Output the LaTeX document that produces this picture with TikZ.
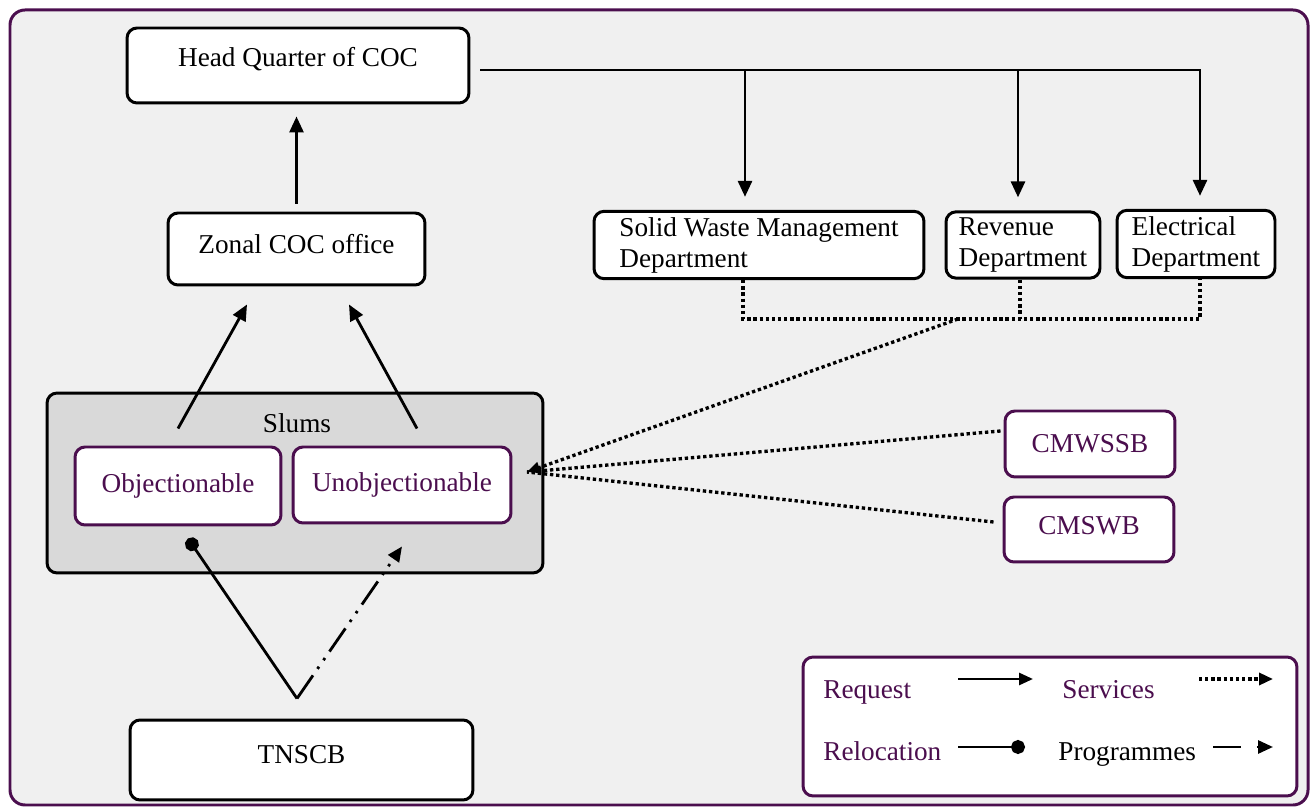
\documentclass[tikz,border=0pt]{standalone}
\usepackage{fontspec}
\setmainfont{Liberation Serif}
\usepackage{tikz}
\usetikzlibrary{arrows.meta}
\definecolor{mpurple}{RGB}{75,14,78}
\definecolor{mgrey}{RGB}{240,240,240}
\definecolor{sgrey}{RGB}{217,217,217}

\begin{document}
\begin{tikzpicture}[x=0.02cm, y=-0.02cm,
    font=\fontsize{15.5}{17.6}\selectfont,
    blackbox/.style={draw, line width=1.7pt, rounded corners=0.2cm, fill=white},
    purplebox/.style={draw=mpurple, line width=1.7pt, rounded corners=0.2cm, fill=white, text=mpurple},
    req/.style={line width=1.6pt, -{Triangle[length=0.32cm, width=0.28cm]}},
    srv/.style={line width=1.9pt, dash pattern=on 1.9pt off 1.6pt},
    rel/.style={line width=1.6pt, -{Circle[length=0.28cm]}},
    prog/.style={line width=1.6pt, dash pattern=on 16pt off 4.5pt on 1.5pt off 4.5pt on 1.5pt off 4.5pt, -{Triangle[length=0.3cm, width=0.26cm]}}]

      \useasboundingbox (0,0) rectangle (1316,810);
      \draw [mpurple, line width=1.7pt, fill=mgrey, rounded corners=0.3cm] (10,10) rectangle (1308,805);

      % top row
      \node [blackbox, minimum width=6.84cm, minimum height=1.5cm, text depth=9.5pt] (hq) at (298,65.5) {Head Quarter of COC};
      \node [blackbox, minimum width=5.14cm, minimum height=1.44cm, text depth=5.6pt] (zonal) at (296.5,249) {Zonal COC office};
      \node [blackbox, minimum width=6.6cm, minimum height=1.28cm, align=left] (swm) at (759,245) {Solid Waste Management\\Department};
      \node [blackbox, minimum width=3.08cm, minimum height=1.28cm, align=left] (rev) at (1023,245) {Revenue\\Department};
      \node [blackbox, minimum width=3.16cm, minimum height=1.32cm, align=left] (elec) at (1196,244) {Electrical\\Department};

      % slums
      \node [blackbox, fill=sgrey, minimum width=9.92cm, minimum height=3.6cm] (slums) at (295,483) {};
      \node (slumslabel) at (297,423) {Slums};
      \node [purplebox, minimum width=4.12cm, minimum height=1.56cm] (obj) at (178,486) {Objectionable};
      \node [purplebox, minimum width=4.36cm, minimum height=1.52cm] (unobj) at (402,485) {Unobjectionable};

      \node [purplebox, minimum width=3.4cm, minimum height=1.32cm] (cmwssb) at (1090,444) {CMWSSB};
      \node [purplebox, minimum width=3.4cm, minimum height=1.3cm, text depth=4pt] (cmswb) at (1089,529.5) {CMSWB};
      \node [blackbox, minimum width=6.86cm, minimum height=1.6cm, text depth=6.8pt] (tnscb) at (301.5,760) {TNSCB};

      % requests
      \draw [req, shorten <=0.16cm, shorten >=0.24cm] (zonal.north) -- (zonal.north |- hq.south);
      \draw [req] ([yshift=0.34cm]obj.north) -- ([xshift=-0.99cm, yshift=-0.36cm]zonal.south);
      \draw [req] ([xshift=0.3cm, yshift=0.34cm]unobj.north) -- ([xshift=1.05cm, yshift=-0.36cm]zonal.south);

      \coordinate (hqout) at (480,70);
      \coordinate (swmin) at ([xshift=-0.28cm]swm.north);
      \coordinate (revin) at ([xshift=-0.1cm]rev.north);
      \coordinate (elecin) at ([xshift=0.08cm]elec.north);
      \draw [req, shorten >=0.26cm] (hqout) -| (elecin);
      \draw [req, shorten >=0.26cm] (hqout -| swmin) -- (swmin);
      \draw [req, shorten >=0.26cm] (hqout -| revin) -- (revin);

      % services
      \coordinate (bus) at (958,319);
      \coordinate (hub) at (527,472);
      \coordinate (swmout) at ([xshift=-0.32cm]swm.south);
      \coordinate (revout) at ([xshift=-0.06cm]rev.south);
      \coordinate (elecout) at ([xshift=0.08cm]elec.south);
      \draw [srv] (swmout) |- (bus -| elecout) -- (elecout);
      \draw [srv] (revout) -- (revout |- bus);
      \draw [srv, -{Triangle[length=0.26cm, width=0.22cm]}] (bus) -- (hub);
      \draw [srv] ([xshift=-0.06cm, yshift=0.26cm]cmwssb.west) -- (hub);
      \draw [srv] ([xshift=-0.18cm, yshift=0.15cm]cmswb.west) -- (hub);

      % relocation and programmes
      \coordinate (apex) at ([xshift=-0.09cm, yshift=0.4cm]tnscb.north);
      \draw [rel] (apex) -- ([xshift=0.2cm, yshift=-0.24cm]obj.south);
      \draw [prog] (apex) -- ([yshift=-0.44cm]unobj.south);

      % legend
      \node [purplebox, minimum width=9.88cm, minimum height=2.78cm] (legend) at (1050,726.5) {};
      \node [anchor=base west, text=mpurple, inner sep=0pt] (lreq) at (823,699) {Request};
      \node [anchor=base west, text=mpurple, inner sep=0pt] (lsrv) at (1062,699) {Services};
      \node [anchor=base west, text=mpurple, inner sep=0pt] (lrel) at (823,761) {Relocation};
      \node [anchor=base west, inner sep=0pt] (lprog) at (1058,761) {Programmes};
      \draw [req, -{Triangle[length=0.28cm, width=0.24cm]}] (958,679) -- (1033,679);
      \draw [srv, -{Triangle[length=0.28cm, width=0.24cm]}] (1199,679) -- (1273,679);
      \draw [rel] (958,747) -- (1025,747);
      \draw [prog, dash pattern=on 16pt off 9pt] (1213,747) -- (1273,747);
    \end{tikzpicture}
\end{document}
